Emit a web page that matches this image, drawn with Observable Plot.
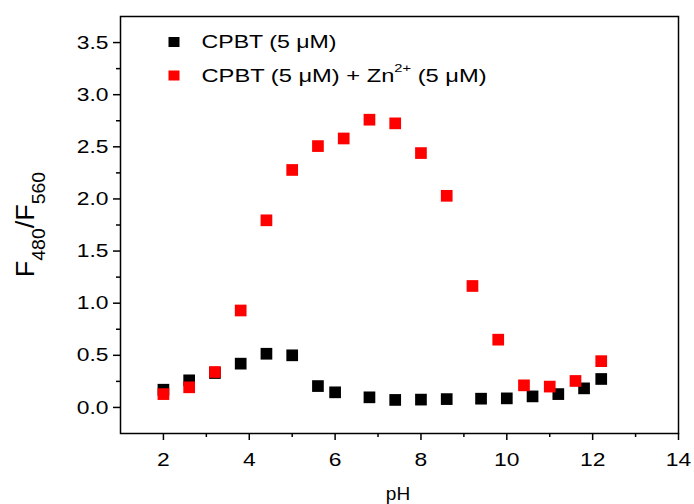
<!DOCTYPE html>
<html>
<head>
<meta charset="utf-8">
<script src="https://cdn.jsdelivr.net/npm/d3@7"></script>
<script src="https://cdn.jsdelivr.net/npm/@observablehq/plot@0.6"></script>
<style>
  html, body { margin: 0; padding: 0; background: #fff; }
  #chart { width: 694px; height: 504px; }
</style>
</head>
<body>
<div id="chart"></div>
<script>
// ---- Data ----
const seriesNames = ["CPBT (5 μM)", "CPBT (5 μM) + Zn2+ (5 μM)"];
const seriesColors = ["#000000", "#ff0000"];

const phBlack = [2.0, 2.6, 3.2, 3.8, 4.4, 5.0, 5.6, 6.0, 6.8, 7.4, 8.0, 8.6, 9.4, 10.0, 10.6, 11.2, 11.8, 12.2];
const ratioBlack = [0.17, 0.26, 0.33, 0.42, 0.515, 0.50, 0.205, 0.145, 0.097, 0.072, 0.075, 0.08, 0.084, 0.087, 0.106, 0.128, 0.183, 0.273];

const phRed = [2.0, 2.6, 3.2, 3.8, 4.4, 5.0, 5.6, 6.2, 6.8, 7.4, 8.0, 8.6, 9.2, 9.8, 10.4, 11.0, 11.6, 12.2];
const ratioRed = [0.128, 0.193, 0.34, 0.93, 1.795, 2.278, 2.507, 2.58, 2.76, 2.725, 2.44, 2.03, 1.165, 0.65, 0.212, 0.2, 0.254, 0.444];

const xMajorTicks = [2, 4, 6, 8, 10, 12, 14];
const xMinorTicks = [3, 5, 7, 9, 11, 13];
const yMajorTicks = [0, 0.5, 1.0, 1.5, 2.0, 2.5, 3.0, 3.5];
const yMinorTicks = [0.25, 0.75, 1.25, 1.75, 2.25, 2.75, 3.25];
const xTitle = "pH";

// ---- Build tables ----
const blackData = phBlack.map((x, i) => ({x, y: ratioBlack[i], s: seriesNames[0]}));
const redData = phRed.map((x, i) => ({x, y: ratioRed[i], s: seriesNames[1]}));

const W = 694, H = 504;
const mL = 120, mR = 16, mT = 16, mB = 71;
const font = "'Liberation Sans', Arial, sans-serif";

const chart = Plot.plot({
  width: W,
  height: H,
  marginLeft: mL,
  marginRight: mR,
  marginTop: mT,
  marginBottom: mB,
  style: {fontFamily: font, fontSize: "19px", color: "#000", background: "#fff", overflow: "visible"},
  x: {domain: [1, 14], label: null},
  y: {domain: [-0.25, 3.75], label: null},
  color: {domain: seriesNames, range: seriesColors},
  marks: [
    Plot.axisX({ticks: xMajorTicks, tickSize: 7, tickPadding: 12, tickFormat: d => String(d), strokeWidth: 1.5, fontSize: 19}),
    Plot.axisX({ticks: xMinorTicks, tickSize: 4, tickFormat: () => "", strokeWidth: 1.5}),
    Plot.axisY({ticks: yMajorTicks, tickSize: 7, tickPadding: 5, tickFormat: d3.format(".1f"), strokeWidth: 1.5, fontSize: 19}),
    Plot.axisY({ticks: yMinorTicks, tickSize: 4, tickFormat: () => "", strokeWidth: 1.5}),
    Plot.frame({stroke: "#000", strokeWidth: 1.5}),
    Plot.dot(blackData, {x: "x", y: "y", fill: "s", symbol: "square", r: 6.6, stroke: null}),
    Plot.dot(redData, {x: "x", y: "y", fill: "s", symbol: "square", r: 6.6, stroke: null})
  ]
});

document.getElementById("chart").appendChild(chart);

const svg = d3.select(chart);

// Widen text slightly (reference glyphs are wide)
function widen(sel, f) {
  sel.each(function () {
    const n = this.getComputedTextLength ? this.getComputedTextLength() : 0;
    if (n > 0) {
      this.setAttribute("textLength", (n * f).toFixed(1));
      this.setAttribute("lengthAdjust", "spacingAndGlyphs");
    }
  });
}
widen(svg.selectAll("g[aria-label$='tick label'] text"), 1.2);

// Legend (inside plot area, top-left)
const legendX = mL + 54, legendY0 = mT + 26, legendDy = 33.5;
const legendStretch = [1.25, 1.28];
seriesNames.forEach((name, i) => {
  const cy = legendY0 + i * legendDy;
  svg.append("rect")
    .attr("x", legendX - 5.5).attr("y", cy - 5)
    .attr("width", 11).attr("height", 10)
    .attr("fill", seriesColors[i]);
  const t = svg.append("text")
    .attr("x", legendX + 27.5).attr("y", cy + 6)
    .attr("text-anchor", "start")
    .attr("font-family", font).attr("font-size", 18.5).attr("fill", "#000");
  const m = name.match(/^(.*Zn)(2\+)(.*)$/);
  if (m) {
    t.append("tspan").text(m[1]);
    t.append("tspan").attr("dy", -10).attr("font-size", 11.5).text(m[2]);
    t.append("tspan").attr("dy", 10).text(m[3]);
  } else {
    t.text(name);
  }
  widen(t, legendStretch[i]);
});

// X title
svg.append("text")
  .attr("x", (mL + (W - mR)) / 2 - 1).attr("y", 500)
  .attr("text-anchor", "middle")
  .attr("font-family", font).attr("font-size", 19).attr("fill", "#000")
  .text(xTitle);

// Y title: F480/F560 with subscripts
const yt = svg.append("text")
  .attr("transform", `translate(34, ${(mT + (H - mB)) / 2}) rotate(-90)`)
  .attr("text-anchor", "middle")
  .attr("font-family", font).attr("font-size", 25).attr("fill", "#000");
yt.append("tspan").text("F");
yt.append("tspan").attr("dy", 11).attr("font-size", 18).text("480");
yt.append("tspan").attr("dy", -11).text("/F");
yt.append("tspan").attr("dy", 11).attr("font-size", 18).text("560");
widen(yt, 1.08);
</script>
</body>
</html>
